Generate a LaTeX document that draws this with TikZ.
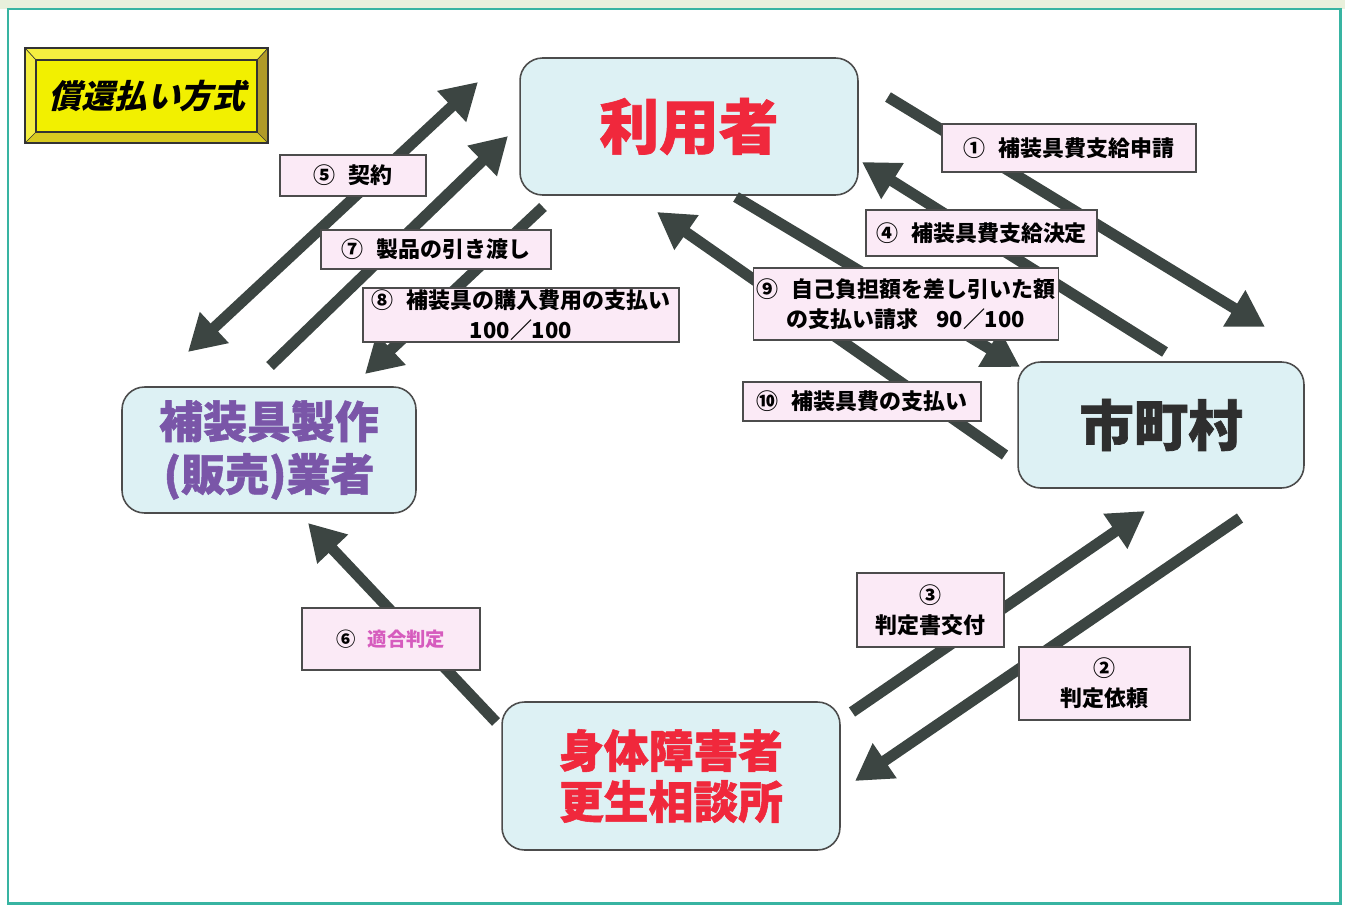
\documentclass[tikz,border=0pt]{standalone}
\usepackage{fontspec}
\setmainfont{Noto Sans CJK JP}
\newfontfamily\slantjp[FakeSlant=0.25]{Noto Sans CJK JP}
\newfontfamily\heavyjp[FakeBold=1.2]{Noto Sans CJK JP}
\usepackage{tikz}
\usetikzlibrary{arrows.meta}

\begin{document}
\begin{tikzpicture}[x=0.02cm,y=-0.02cm,
	party/.style={draw=black!70, line width=0.9pt, fill=BOX, rounded corners=0.45cm, align=center, inner sep=0pt},
	tag/.style={draw=black!70, line width=0.8pt, fill=TAG, align=center, inner sep=0pt, font=\bfseries\fontsize{12.5}{17}\selectfont},
	flow/.style={draw=ARR, line width=0.22cm, -{Triangle[length=0.72cm,width=0.8cm]}},
	both/.style={flow, {Triangle[length=0.72cm,width=0.8cm]}-{Triangle[length=0.72cm,width=0.8cm]}}]
\definecolor{FRM}{HTML}{38B4A2}
\definecolor{HAZE}{HTML}{E9F0DC}
\definecolor{BOX}{HTML}{DDF1F4}
\definecolor{TAG}{HTML}{FBEAF6}
\definecolor{ARR}{HTML}{3C4542}
\definecolor{RED}{HTML}{F0283C}
\definecolor{PUR}{HTML}{7A56A8}
\definecolor{INK}{HTML}{2E2E2E}
\definecolor{PNK}{HTML}{D65CBE}
\definecolor{YEL}{HTML}{F2F000}
\definecolor{YLT}{HTML}{F4EE40}
\definecolor{YDK}{HTML}{B09A28}
\definecolor{YMD}{HTML}{D8CA20}

\useasboundingbox (0,0) rectangle (1345,906);

% page frame
\fill[HAZE] (0,0) rectangle (1345,9);
\draw[FRM, line width=0.06cm] (8,9) rectangle (1340,903);

% title plate
\fill[YEL] (25,48) rectangle (268,143);
\fill[YLT] (25,48) -- (268,48) -- (257,60) -- (36,60) -- cycle;
\fill[YLT] (25,48) -- (36,60) -- (36,132) -- (25,143) -- cycle;
\fill[YDK] (268,48) -- (268,143) -- (257,132) -- (257,60) -- cycle;
\fill[YMD] (25,143) -- (268,143) -- (257,132) -- (36,132) -- cycle;
\draw[black!80, line width=0.6pt] (25,48) rectangle (268,143) (36,60) rectangle (257,132);
\draw[black!80, line width=0.4pt] (25,48) -- (36,60) (268,48) -- (257,60) (268,143) -- (257,132) (25,143) -- (36,132);
\node[font=\slantjp\bfseries\fontsize{18.7}{20}\selectfont] (title) at (147,96) {償還払い方式};

% the four parties
\node[party, minimum width=6.76cm, minimum height=2.74cm, text=RED,
	font=\heavyjp\bfseries\fontsize{34}{36}\selectfont] (user) at (689,126.5) {利用者};
\node[party, minimum width=5.88cm, minimum height=2.52cm, text=PUR,
	font=\heavyjp\bfseries\fontsize{25}{30}\selectfont] (maker) at (269,450) {補装具製作\\(販売)業者};
\node[party, minimum width=5.72cm, minimum height=2.52cm, text=INK,
	font=\heavyjp\bfseries\fontsize{31}{34}\selectfont] (city) at (1161,425) {市町村};
\node[party, minimum width=6.76cm, minimum height=2.96cm, text=RED,
	font=\heavyjp\bfseries\fontsize{25.5}{29}\selectfont] (office) at (671,776) {身体障害者\\更生相談所};

% arrow ends
\foreach \name/\sx/\sy/\ex/\ey in {a1/888/97/1265/327, a4/1165/352/862/162, a9/736/197/1020/367,
	a10/1005/455/657/212, a5/188/352/478/82, a7/270/366/508/136, a8/543/207/365/374,
	a3/852/712/1145/511, a2/1240/518/855/781, a6/496/722/308/523}{
	\coordinate (\name s) at (\sx,\sy);
	\coordinate (\name e) at (\ex,\ey);
}
\foreach \name in {a1,a4,a9,a10,a7,a8,a3,a2,a6}{
	\draw[flow] (\name s) -- (\name e);
}
\draw[both] (a5s) -- (a5e);

% labels on the arrows
\node[tag, minimum width=5.08cm, minimum height=0.96cm] (t1) at (1069,148) {①\hspace{0.6em}補装具費支給申請};
\node[tag, minimum width=4.62cm, minimum height=0.92cm] (t4) at (981.5,233) {④\hspace{0.6em}補装具費支給決定};
\node[tag, minimum width=6.10cm, minimum height=1.44cm] (t9) at (906,304) {⑨\hspace{0.6em}自己負担額を差し引いた額\\の支払い請求\hspace{0.8em}90／100};
\node[tag, minimum width=4.76cm, minimum height=0.78cm] (t10) at (862,401.5) {⑩\hspace{0.6em}補装具費の支払い};
\node[tag, minimum width=2.92cm, minimum height=0.82cm] (t5) at (353,175.5) {⑤\hspace{0.6em}契約};
\node[tag, minimum width=4.60cm, minimum height=0.78cm] (t7) at (436,249.5) {⑦\hspace{0.6em}製品の引き渡し};
\node[tag, minimum width=6.32cm, minimum height=1.08cm] (t8) at (521,315) {⑧\hspace{0.6em}補装具の購入費用の支払い\\100／100};
\node[tag, minimum width=2.94cm, minimum height=1.48cm] (t3) at (930.5,610) {③\\判定書交付};
\node[tag, minimum width=3.42cm, minimum height=1.46cm] (t2) at (1104.5,683.5) {②\\判定依頼};
\node[tag, minimum width=3.56cm, minimum height=1.24cm, font=\bfseries\fontsize{11}{14}\selectfont] (t6) at (391,639) {⑥\hspace{0.6em}\textcolor{PNK}{適合判定}};

\end{tikzpicture}
\end{document}
